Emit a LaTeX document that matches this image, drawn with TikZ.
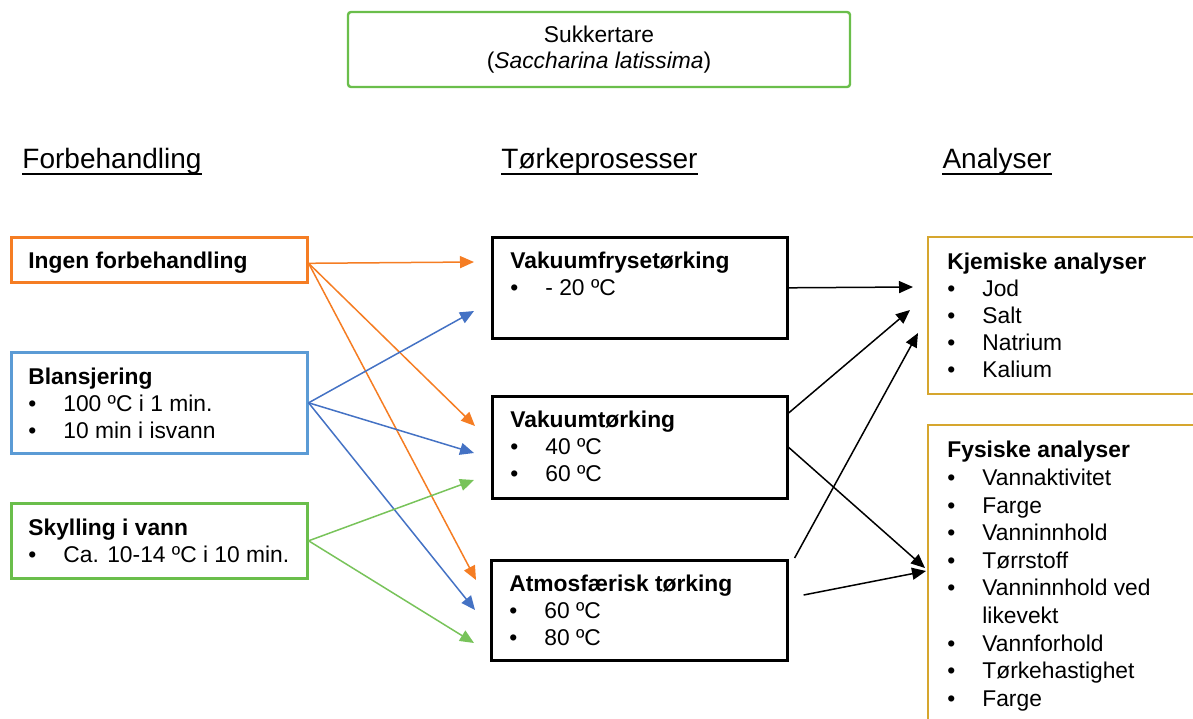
\documentclass[tikz,border=0pt]{standalone}
\usepackage{fontspec}
\setmainfont{Liberation Sans}
\usetikzlibrary{arrows.meta}

\definecolor{preorange}{RGB}{245,125,35}
\definecolor{preblue}{RGB}{91,155,213}
\definecolor{pregreen}{RGB}{106,190,75}
\definecolor{arrblue}{RGB}{68,114,196}
\definecolor{arrgreen}{RGB}{120,195,90}
\definecolor{anagold}{RGB}{214,166,46}

\newcommand{\blt}{\makebox[17.5pt][l]{\textbullet}}

\tikzset{
	stepbox/.style={draw, line width=1.3pt, minimum width=148pt, inner sep=0pt, anchor=north west},
	boxtext/.style={anchor=north west, inner sep=0pt, align=left, font=\fontsize{11.4}{13.5}\selectfont},
	headtext/.style={anchor=base, inner sep=0pt, font=\fontsize{14}{16}\selectfont},
	flow/.style={-{Triangle[length=7pt,width=6pt]}, line width=0.75pt},
}

\begin{document}
\begin{tikzpicture}[x=1pt,y=-1pt]
			\useasboundingbox (0,0) rectangle (596.5,359);
			% species
			\node[draw=pregreen, line width=1.2pt, rounded corners=1.5pt, minimum width=251pt, minimum height=37.5pt,
				align=center, font=\fontsize{11.4}{13}\selectfont] (tare) at (299.5,24.75)
				{Sukkertare\\(\textit{Saccharina latissima})};
			% headings
			\node[headtext] (forb) at (56,84) {Forbehandling};
			\node[headtext] (tork) at (299.75,84) {Tørkeprosesser};
			\node[headtext] (anal) at (498.5,84) {Analyser};
			\foreach \h in {forb, tork, anal}
				\draw[line width=0.8pt] ([yshift=-3pt]\h.base west) -- ([yshift=-3pt]\h.base east);
			% pretreatment
			\node[stepbox, draw=preorange, minimum height=22.5pt] (ingen) at (5,118) {};
			\node[boxtext] (ingen-t) at ([shift={(9pt,-8pt)}]ingen.north west) {\textbf{Ingen forbehandling}};
			\node[stepbox, draw=preblue, minimum height=50.5pt] (blans) at (5,175.5) {};
			\node[boxtext] (blans-t) at ([shift={(9pt,-8.5pt)}]blans.north west)
				{\textbf{Blansjering}\\ \blt 100 ºC i 1 min.\\ \blt 10 min i isvann};
			\node[stepbox, draw=pregreen, minimum height=37.5pt] (skyl) at (5,251) {};
			\node[boxtext] (skyl-t) at ([shift={(9pt,-8.5pt)}]skyl.north west)
				{\textbf{Skylling i vann}\\ \blt Ca. 10-14 ºC i 10 min.};
			% drying
			\node[stepbox, minimum width=147.5pt, minimum height=50.5pt] (vft) at (245.5,118) {};
			\node[boxtext] (vft-t) at ([shift={(9.5pt,-8pt)}]vft.north west)
				{\textbf{Vakuumfrysetørking}\\ \blt - 20 ºC};
			\node[stepbox, minimum width=147.5pt, minimum height=51pt] (vt) at (245.5,197.5) {};
			\node[boxtext] (vt-t) at ([shift={(9.5pt,-8pt)}]vt.north west)
				{\textbf{Vakuumtørking}\\ \blt 40 ºC\\ \blt 60 ºC};
			\node[stepbox, minimum height=50pt] (atm) at (245,279.5) {};
			\node[boxtext] (atm-t) at ([shift={(9.5pt,-8pt)}]atm.north west)
				{\textbf{Atmosfærisk tørking}\\ \blt 60 ºC\\ \blt 80 ºC};
			% analyses
			\node[stepbox, draw=anagold, line width=1pt, minimum width=137pt, minimum height=78.5pt] (kjem) at (463.5,118) {};
			\node[boxtext] (kjem-t) at ([shift={(10pt,-8.5pt)}]kjem.north west)
				{\textbf{Kjemiske analyser}\\ \blt Jod\\ \blt Salt\\ \blt Natrium\\ \blt Kalium};
			\node[stepbox, draw=anagold, line width=1pt, minimum width=137pt, minimum height=153pt] (fys) at (463.5,212) {};
			\node[boxtext, font=\fontsize{11.4}{13.8}\selectfont] (fys-t) at ([shift={(10pt,-8.5pt)}]fys.north west)
				{\textbf{Fysiske analyser}\\ \blt Vannaktivitet\\ \blt Farge\\ \blt Vanninnhold\\ \blt Tørrstoff\\
				\blt Vanninnhold ved\\ \hspace*{17.5pt}likevekt\\ \blt Vannforhold\\ \blt Tørkehastighet\\ \blt Farge};
			% arrow ends
			\coordinate (ingen-out) at ([yshift=-1.75pt]ingen.east);
			\coordinate (o1) at (237,131);
			\coordinate (o2) at (237.5,213);
			\coordinate (o3) at (238,290);
			\coordinate (b1) at (237,155.5);
			\coordinate (b2) at (237,226.5);
			\coordinate (b3) at (237.5,305);
			\coordinate (g1) at (237,240);
			\coordinate (g2) at (237,321.5);
			\coordinate (kj1) at (456.5,143.5);
			\coordinate (kj2) at (455,155);
			\coordinate (kj3) at (459,166.5);
			\coordinate (fy1) at (462.5,284);
			\coordinate (fy2) at (463,285.5);
			\coordinate (vt-up) at ([yshift=-9pt]vt.north east);
			\coordinate (atm-up) at ([shift={(3pt,0.5pt)}]atm.north east);
			\coordinate (atm-mid) at ([shift={(7.5pt,-18pt)}]atm.north east);
			% pretreatment -> drying
			\foreach \e in {o1,o2,o3}
				\draw[flow, preorange] (ingen-out) -- (\e);
			\foreach \e in {b1,b2,b3}
				\draw[flow, arrblue] (blans.east) -- (\e);
			\foreach \e in {g1,g2}
				\draw[flow, arrgreen] (skyl.east) -- (\e);
			% drying -> analyses
			\draw[flow] (vft.east) -- (kj1);
			\draw[flow] (vt-up) -- (kj2);
			\draw[flow] (atm-up) -- (kj3);
			\draw[flow] (vt.east) -- (fy1);
			\draw[flow] (atm-mid) -- (fy2);
\end{tikzpicture}
\end{document}
